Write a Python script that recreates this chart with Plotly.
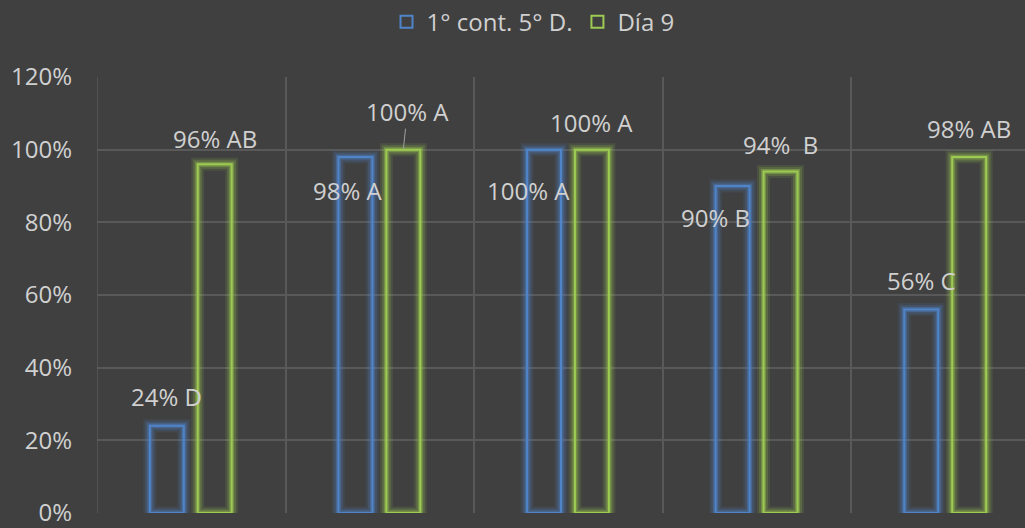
import plotly.graph_objects as go

categories = [0, 1, 2, 3, 4]
series_names = ["1° cont. 5° D.", "Día 9"]
blue_values = [0.24, 0.98, 1.00, 0.90, 0.56]
green_values = [0.96, 1.00, 1.00, 0.94, 0.98]
blue_labels = ["24% D", "98% A", "100% A", "90% B", "56% C"]
green_labels = ["96% AB", "100% A", "100% A", "94%  B", "98% AB"]
y_ticks = [0, 0.2, 0.4, 0.6, 0.8, 1.0, 1.2]
y_tick_text = ["0%", "20%", "40%", "60%", "80%", "100%", "120%"]

BG = "#404040"
GRID = "#595959"
TXT = "#d0d0d0"
BLUE = "#4f84c9"
GREEN = "#9dca52"
FONT = "Open Sans"
FS = 24

BAR_W = 0.18
BLUE_OFF = -0.13 - BAR_W / 2
GREEN_OFF = 0.124 - BAR_W / 2

fig = go.Figure()

def add_series(vals, color, rgba, off, name):
    # glow layers
    for w, a in [(13, 0.12), (9, 0.2), (5, 0.4)]:
        fig.add_trace(go.Bar(
            x=categories, y=vals, width=BAR_W, offset=off,
            marker=dict(color="rgba(0,0,0,0)", line=dict(color=f"rgba({rgba},{a})", width=w)),
            showlegend=False, hoverinfo="skip"))
    fig.add_trace(go.Bar(
        x=categories, y=vals, width=BAR_W, offset=off, name=name,
        marker=dict(color="rgba(0,0,0,0)", line=dict(color=color, width=2))))

add_series(blue_values, BLUE, "79,132,201", BLUE_OFF, series_names[0])
add_series(green_values, GREEN, "157,202,82", GREEN_OFF, series_names[1])

# label pixel shifts relative to top-centre of each bar
blue_shift = [(0, 29), (-7, -34), (-16, -41), (-17, -31), (0, 29)]
green_shift = [(0, 26), (4, 38), (0, 27), (0, 27), (0, 28)]

for i, (v, t) in enumerate(zip(blue_values, blue_labels)):
    xs, ys = blue_shift[i]
    fig.add_annotation(x=categories[i] + BLUE_OFF + BAR_W / 2, y=v, text=t,
                       showarrow=False, xshift=xs, yshift=ys,
                       font=dict(family=FONT, size=FS, color=TXT))

for i, (v, t) in enumerate(zip(green_values, green_labels)):
    xs, ys = green_shift[i]
    xc = categories[i] + GREEN_OFF + BAR_W / 2
    if i == 1:
        fig.add_annotation(x=xc, y=v, text=t, showarrow=True, arrowhead=0,
                           arrowwidth=1, arrowcolor="#a0a0a0", ax=xs, ay=-ys,
                           standoff=1, borderpad=0,
                           font=dict(family=FONT, size=FS, color=TXT))
    else:
        fig.add_annotation(x=xc, y=v, text=t, showarrow=False, xshift=xs, yshift=ys,
                           font=dict(family=FONT, size=FS, color=TXT))

fig.update_layout(
    width=1025, height=528,
    barmode="overlay",
    paper_bgcolor=BG, plot_bgcolor=BG,
    margin=dict(l=97, r=0, t=77, b=13),
    font=dict(family=FONT, size=FS, color=TXT),
    showlegend=True,
    legend=dict(orientation="h", xref="container", yref="container",
                x=0.520, y=0.958, xanchor="center", yanchor="middle",
                font=dict(family=FONT, size=FS, color=TXT),
                bgcolor="rgba(0,0,0,0)", itemwidth=30),
    xaxis=dict(range=[-0.5, 4.42], tickmode="linear", tick0=0.5, dtick=1,
               showticklabels=False, showgrid=True, gridcolor=GRID, gridwidth=1.5,
               zeroline=False, showline=False, ticks=""),
    yaxis=dict(range=[0, 1.2], tickvals=y_ticks, ticktext=y_tick_text,
               showgrid=True, gridcolor=GRID, gridwidth=1.5, zeroline=False,
               showline=False, ticks="", ticklabelstandoff=24,
               ticklabeloverflow="allow",
               tickfont=dict(family=FONT, size=FS, color=TXT)),
)
# left boundary gridline at category edge
fig.add_shape(type="line", xref="x", yref="y", x0=-0.5, x1=-0.5, y0=0, y1=1.2,
              line=dict(color=GRID, width=1.5), layer="below")

fig.write_html("out.html", config={"displayModeBar": False},
               post_script="document.body.style.margin='0';document.body.style.background='#404040';")
